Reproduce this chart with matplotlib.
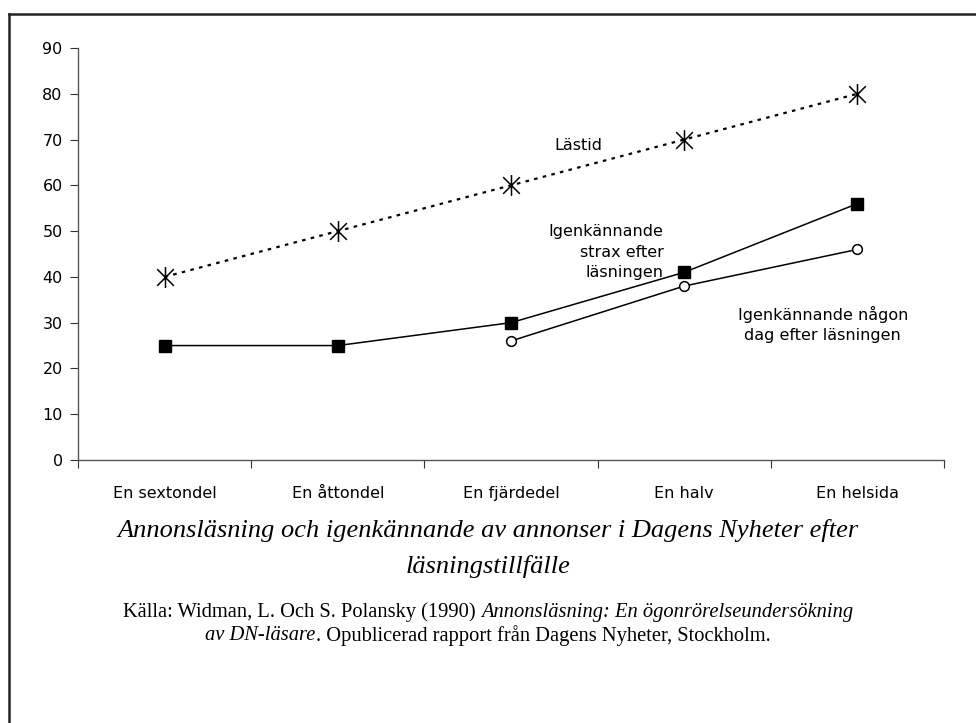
import numpy as np
import matplotlib
matplotlib.use("Agg")
import matplotlib.pyplot as plt
from matplotlib.path import Path
from matplotlib.lines import Line2D

# Data
kategorier = ["En sextondel", "En åttondel", "En fjärdedel", "En halv", "En helsida"]
lastid = [40, 50, 60, 70, 80]
strax = [25, 25, 30, 41, 56]
nagon_dag = [np.nan, np.nan, 26, 38, 46]
y_ticks = [0, 10, 20, 30, 40, 50, 60, 70, 80, 90]

plt.rcParams['font.family'] = ['DejaVu Sans']

fig = plt.figure(figsize=(9.76, 7.23), dpi=100)
ax = fig.add_axes([78 / 976, 1 - 460 / 723, (944 - 78) / 976, (460 - 48) / 723])

x = np.arange(len(kategorier))

# Excel-liknande stjärnmarkör (X med lodrät linje)
star = Path([(-1, -1), (1, 1), (-1, 1), (1, -1), (0, -1.25), (0, 1.25)],
            [Path.MOVETO, Path.LINETO, Path.MOVETO, Path.LINETO, Path.MOVETO, Path.LINETO])

ax.plot(x, lastid, color='black', lw=1.6, linestyle=(0, (1.6, 2.4)),
        marker=star, markersize=15, markeredgewidth=1.1, markerfacecolor='none',
        markeredgecolor='black')
ax.plot(x, strax, color='black', lw=1.1, marker='s', markersize=8,
        markerfacecolor='black', markeredgecolor='black')
ax.plot(x, nagon_dag, color='black', lw=1.1, marker='o', markersize=7,
        markerfacecolor='white', markeredgecolor='black', markeredgewidth=1.1)

ax.set_xlim(-0.5, len(kategorier) - 0.5)
ax.set_ylim(0, 90)
ax.set_yticks(y_ticks)
ax.set_yticklabels([str(v) for v in y_ticks], fontsize=11.5)

ax.set_xticks(np.arange(-0.5, len(kategorier), 1.0))
ax.set_xticklabels([])
ax.set_xticks(x, minor=True)
ax.set_xticklabels(kategorier, minor=True, fontsize=11.5)
ax.tick_params(axis='x', which='minor', length=0, pad=19)
ax.tick_params(axis='x', which='major', length=6, direction='out', color='#333333')
ax.tick_params(axis='y', length=6, direction='out', color='#333333', pad=5)

for s in ['top', 'right']:
    ax.spines[s].set_visible(False)
for s in ['left', 'bottom']:
    ax.spines[s].set_color('#555555')
    ax.spines[s].set_linewidth(1.0)

# Etiketter vid linjerna
ax.text(2.39, 68.8, "Lästid", fontsize=11.5, ha='center', va='center')
ax.text(2.88, 45.4, "Igenkännande\nstrax efter\nläsningen", fontsize=11.5,
        ha='right', va='center', multialignment='right', linespacing=1.45)
ax.text(3.8, 29.6, "Igenkännande någon\ndag efter läsningen", fontsize=11.5,
        ha='center', va='center', multialignment='center', linespacing=1.45)

# Ram (endast överkant och vänsterkant syns)
fig.add_artist(Line2D([9 / 976, 9 / 976], [0, 1 - 14 / 723], color='#222222', lw=1.8))
fig.add_artist(Line2D([9 / 976, 1], [1 - 14 / 723, 1 - 14 / 723], color='#222222', lw=1.8))

# Rubrik
serif = ['Liberation Serif', 'DejaVu Serif']
fig.text(0.5, 1 - 530 / 723, "Annonsläsning och igenkännande av annonser i Dagens Nyheter efter",
         fontsize=19, style='italic', family=serif, ha='center', va='center')
fig.text(0.5, 1 - 566 / 723, "läsningstillfälle",
         fontsize=19, style='italic', family=serif, ha='center', va='center')

# Källa med blandad stil
renderer = fig.canvas.get_renderer()


def mixed_line(parts, y, size):
    texts = []
    for s, st in parts:
        t = fig.text(0, y, s, fontsize=size, style=st, family=serif, ha='left', va='center')
        texts.append(t)
    widths = [t.get_window_extent(renderer).width for t in texts]
    total = sum(widths)
    x0 = (fig.bbox.width - total) / 2
    for t, w in zip(texts, widths):
        t.set_x(x0 / fig.bbox.width)
        x0 += w


mixed_line([("Källa: Widman, L. Och S. Polansky (1990) ", 'normal'),
            ("Annonsläsning: En ögonrörelseundersökning", 'italic')], 1 - 612 / 723, 14.8)
mixed_line([("av DN-läsare", 'italic'),
            (". Opublicerad rapport från Dagens Nyheter, Stockholm.", 'normal')], 1 - 636 / 723, 14.8)

fig.savefig("out.png", dpi=100)
